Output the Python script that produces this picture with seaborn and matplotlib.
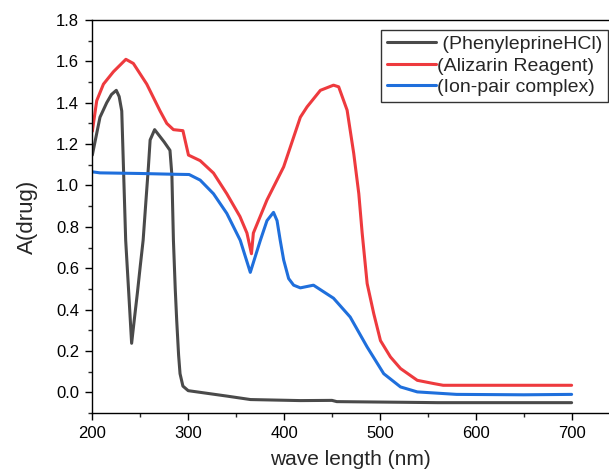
import pandas as pd
import matplotlib
matplotlib.use("Agg")
import matplotlib.pyplot as plt
import seaborn as sns
from matplotlib.ticker import MultipleLocator

# Phenyleprine HCl spectrum
drug_x = [200, 208, 215, 220, 225, 228, 230.7, 232.4, 234.8, 238, 241, 244, 247, 250, 253,
          256, 258.5, 260.3, 265, 270, 275, 281, 283, 284.6, 286.5, 288, 290, 291.5, 294.5,
          300, 320, 340, 365, 417, 450, 455, 520, 560, 600, 650, 700]
drug_y = [1.147, 1.33, 1.40, 1.44, 1.46, 1.43, 1.36, 1.10, 0.735, 0.48, 0.237, 0.36, 0.48,
          0.61, 0.735, 0.93, 1.09, 1.22, 1.27, 1.24, 1.21, 1.17, 1.05, 0.735, 0.50, 0.35,
          0.18, 0.09, 0.03, 0.008, -0.005, -0.018, -0.035, -0.04, -0.039, -0.045, -0.048,
          -0.05, -0.05, -0.05, -0.05]

# Alizarin reagent spectrum
reag_x = [200, 204.6, 211.6, 222, 235, 242.8, 256.8, 270.7, 277.7, 284.6, 294.5, 300.3,
          312.5, 326.4, 340.3, 354, 361.3, 366, 368, 382.2, 399.6, 417, 424, 437.9, 451.6,
          457, 465.8, 472.7, 478, 481.5, 486.7, 493.6, 500.6, 511, 521.5, 539, 556.5, 566,
          600, 650, 700]
reag_y = [1.262, 1.41, 1.49, 1.55, 1.61, 1.59, 1.49, 1.36, 1.30, 1.27, 1.265, 1.147, 1.12,
          1.06, 0.96, 0.85, 0.77, 0.67, 0.77, 0.93, 1.09, 1.33, 1.38, 1.46, 1.485, 1.477,
          1.364, 1.155, 0.96, 0.77, 0.526, 0.38, 0.25, 0.171, 0.115, 0.058, 0.042, 0.034,
          0.034, 0.034, 0.034]

# Ion-pair complex spectrum
comp_x = [200, 208, 250, 277.7, 301, 312.5, 326.4, 340.3, 354.3, 364.8, 375.3, 382.2, 389,
          392.7, 396, 399.6, 404.8, 410, 417, 430.7, 451.6, 469, 486.7, 504, 521.5, 539,
          580, 650, 700]
comp_y = [1.066, 1.061, 1.058, 1.055, 1.053, 1.026, 0.96, 0.865, 0.735, 0.58, 0.735, 0.83,
          0.87, 0.83, 0.735, 0.64, 0.55, 0.518, 0.505, 0.518, 0.455, 0.364, 0.219, 0.09,
          0.026, 0.002, -0.01, -0.012, -0.01]

labels = [" (PhenyleprineHCl)", "(Alizarin Reagent)", "(Ion-pair complex)"]
colors = ["#4a4a4a", "#ee3a3e", "#1f6fdc"]

sns.set_style("ticks")
plt.rcParams['font.family'] = ['Liberation Sans', 'DejaVu Sans']

fig = plt.figure(figsize=(6.09, 4.72), dpi=100)
ax = fig.add_axes([0.1516, 0.125, 0.8484, 0.8326])

for xs, ys, lab, col in zip([drug_x, reag_x, comp_x], [drug_y, reag_y, comp_y], labels, colors):
    df = pd.DataFrame({"x": xs, "y": ys})
    sns.lineplot(data=df, x="x", y="y", ax=ax, color=col, linewidth=2.2, label=lab, sort=False)

ax.set_xlim(200, 739)
ax.set_ylim(-0.1, 1.8)
ax.xaxis.set_major_locator(MultipleLocator(100))
ax.xaxis.set_minor_locator(MultipleLocator(50))
ax.yaxis.set_major_locator(MultipleLocator(0.2))
ax.yaxis.set_minor_locator(MultipleLocator(0.1))
ax.yaxis.set_major_formatter(matplotlib.ticker.FormatStrFormatter('%.1f'))
ax.tick_params(which='major', direction='out', length=5, width=1, labelsize=12,
               colors='black', pad=4.5)
ax.tick_params(which='minor', direction='out', length=3, width=1)

ax.spines['right'].set_visible(False)
for s in ['left', 'bottom', 'top']:
    ax.spines[s].set_color('black')
    ax.spines[s].set_linewidth(1)

ax.set_xlabel("wave length (nm)", fontsize=15, labelpad=6)
ax.set_ylabel("A(drug)", fontsize=16, labelpad=13)

leg = ax.legend(loc='upper right', bbox_to_anchor=(0.998, 0.975), fontsize=14,
                frameon=True, fancybox=False, handlelength=2.5, handletextpad=0.05,
                borderpad=0.3, labelspacing=0.2, borderaxespad=0)
leg.get_frame().set_edgecolor('black')
leg.get_frame().set_linewidth(1)

fig.savefig("out.png", dpi=100)
